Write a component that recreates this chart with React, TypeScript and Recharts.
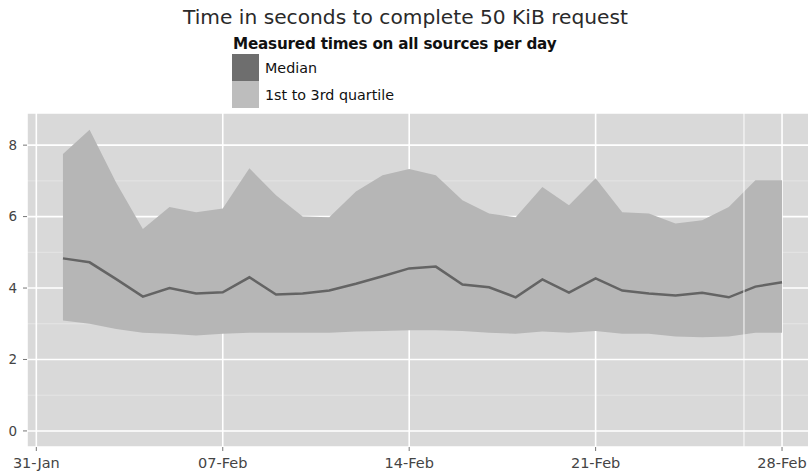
import { ComposedChart, Area, Line, XAxis, YAxis, CartesianGrid, Legend, ReferenceLine } from "recharts";

// days counted from 31-Jan
const days = [1, 2, 3, 4, 5, 6, 7, 8, 9, 10, 11, 12, 13, 14, 15, 16, 17, 18, 19, 20, 21, 22, 23, 24, 25, 26, 27, 28];
const median = [4.83, 4.72, 4.25, 3.76, 4.0, 3.85, 3.88, 4.3, 3.82, 3.85, 3.93, 4.12, 4.33, 4.55, 4.6, 4.1, 4.02, 3.74, 4.24, 3.87, 4.27, 3.93, 3.85, 3.79, 3.87, 3.74, 4.04, 4.16];
const q1 = [3.09, 3.0, 2.85, 2.75, 2.72, 2.67, 2.72, 2.75, 2.75, 2.75, 2.75, 2.78, 2.8, 2.82, 2.82, 2.8, 2.75, 2.72, 2.78, 2.75, 2.8, 2.72, 2.72, 2.64, 2.62, 2.64, 2.75, 2.75];
const q3 = [7.75, 8.43, 6.95, 5.65, 6.27, 6.12, 6.23, 7.35, 6.6, 6.0, 5.98, 6.7, 7.16, 7.33, 7.16, 6.46, 6.09, 5.98, 6.83, 6.32, 7.07, 6.12, 6.09, 5.81, 5.9, 6.27, 7.02, 7.02];

const dayTicks = [0, 7, 14, 21, 28];
const dayLabels = ["31-Jan", "07-Feb", "14-Feb", "21-Feb", "28-Feb"];
const valueTicks = [0, 2, 4, 6, 8];
const minorValues = [1, 3, 5, 7];

const rows = days.map((day, i) => ({ day, median: median[i], iqr: [q1[i], q3[i]] }));

const FONT = "'DejaVu Sans', sans-serif";
const PANEL = "#d9d9d9";
const BAND = "#b6b6b6";
const LINE = "#646464";

const keyColors: Record<string, string> = { median: "#6e6e6e", iqr: "#bdbdbd" };

function LegendBox({ payload }: any) {
  const items = [...(payload || [])].reverse();
  return (
    <div style={{ fontFamily: FONT, color: "#111" }}>
      <div style={{ fontWeight: "bold", fontSize: 15.2, lineHeight: "17px", marginBottom: 1, marginLeft: 1, letterSpacing: -0.2 }}>
        Measured times on all sources per day
      </div>
      {items.map((it: any) => (
        <div key={it.dataKey} style={{ display: "flex", alignItems: "center", height: 27 }}>
          <span style={{ width: 27, height: 27, background: keyColors[it.dataKey], display: "inline-block" }} />
          <span style={{ fontSize: 14.3, marginLeft: 6 }}>{it.value}</span>
        </div>
      ))}
    </div>
  );
}

export default function App() {
  return (
    <div style={{ position: "absolute", left: 0, top: 0, width: 808, height: 474, overflow: "hidden", background: "#fff" }}>
      <div style={{ position: "absolute", top: 5, left: 0, width: 811, textAlign: "center", fontFamily: FONT, fontSize: 20.2, color: "#2a2a2a" }}>
        Time in seconds to complete 50 KiB request
      </div>
      <ComposedChart width={818} height={474} data={rows} margin={{ top: 113, right: 0, bottom: 0, left: 0 }}>
        <CartesianGrid fill={PANEL} stroke="#fff" strokeWidth={0.7} strokeOpacity={0.45} horizontalValues={minorValues} verticalValues={[]} vertical={false} />
        <CartesianGrid fill="none" stroke="#fff" strokeWidth={1.6} />
        <XAxis
          type="number"
          dataKey="day"
          domain={[-0.35, 29.35]}
          ticks={dayTicks}
          tickFormatter={(v: number) => dayLabels[dayTicks.indexOf(v)]}
          allowDataOverflow
          axisLine={false}
          tickSize={4}
          tickMargin={7}
          height={27}
          tick={{ fontSize: 14.5, fill: "#444", fontFamily: FONT }}
          tickLine={{ stroke: "#777" }}
          interval={0}
        />
        <YAxis
          type="number"
          domain={[-0.45, 8.9]}
          ticks={valueTicks}
          allowDataOverflow
          axisLine={false}
          width={27}
          tickSize={4}
          tickMargin={6}
          tick={{ fontSize: 13.5, fill: "#444", fontFamily: FONT }}
          tickLine={{ stroke: "#777" }}
        />
        <Area dataKey="iqr" name="1st to 3rd quartile" type="linear" fill={BAND} fillOpacity={1} stroke="none" isAnimationActive={false} />
        <Line dataKey="median" name="Median" type="linear" stroke={LINE} strokeWidth={2.5} dot={false} isAnimationActive={false} />
        <ReferenceLine x={26.57} stroke="#fff" strokeWidth={1.2} strokeOpacity={0.8} />
        <Legend
          layout="horizontal"
          verticalAlign="middle"
          align="center"
          content={LegendBox}
          wrapperStyle={{ left: 232, top: 36, width: "auto", height: "auto" }}
        />
      </ComposedChart>
    </div>
  );
}
